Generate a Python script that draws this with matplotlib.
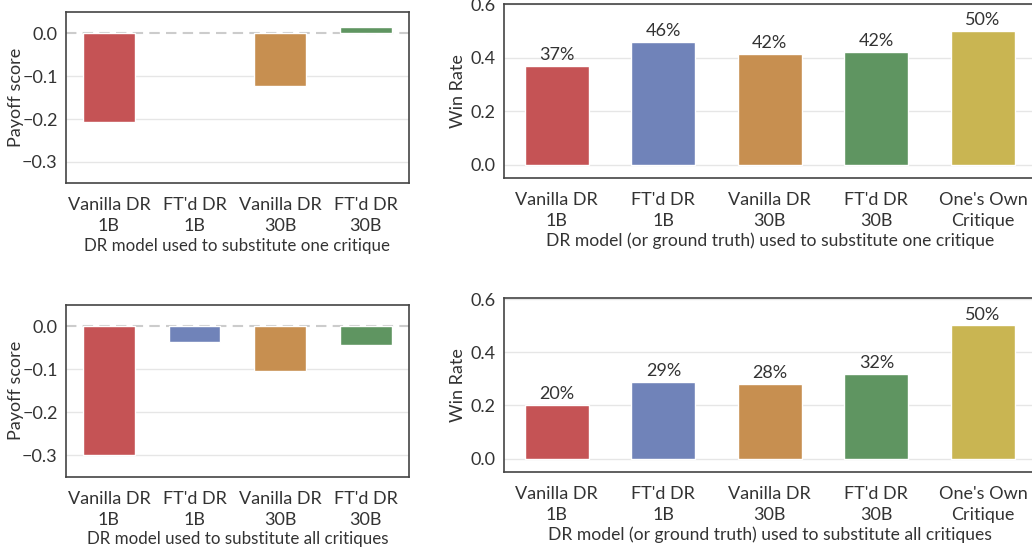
import numpy as np
import matplotlib.pyplot as plt

plt.rcParams['font.family'] = ['Lato', 'DejaVu Sans']
plt.rcParams['text.color'] = '#333333'
plt.rcParams['axes.labelcolor'] = '#333333'
plt.rcParams['xtick.color'] = '#333333'
plt.rcParams['ytick.color'] = '#333333'

# data
dr_labels = ["Vanilla DR\n1B", "FT'd DR\n1B", "Vanilla DR\n30B", "FT'd DR\n30B"]
win_labels = dr_labels + ["One's Own\nCritique"]

payoff_one = [-0.207, 0.0, -0.122, 0.016]
payoff_all = [-0.300, -0.037, -0.105, -0.043]

win_one = [0.37, 0.46, 0.416, 0.423, 0.50]
win_all = [0.203, 0.289, 0.282, 0.319, 0.502]

colors = ['#C55355', '#7083B9', '#C78F50', '#5F9561', '#C9B552']

fs = 13

fig = plt.figure(figsize=(10.32, 5.5), dpi=100)
ax_p1 = fig.add_axes([0.064, 0.667, 0.332, 0.311])
ax_w1 = fig.add_axes([0.488, 0.676, 0.516, 0.316])
ax_p2 = fig.add_axes([0.064, 0.133, 0.332, 0.313])
ax_w2 = fig.add_axes([0.488, 0.142, 0.516, 0.317])


def style(ax):
    for s in ax.spines.values():
        s.set_color('#444444')
        s.set_linewidth(1.2)
    ax.set_axisbelow(True)
    ax.grid(axis='y', color='#E6E6E6', linewidth=1.0)
    ax.tick_params(axis='y', length=0, labelsize=fs, pad=6)
    ax.tick_params(axis='x', length=0, labelsize=fs, pad=10)
    for t in ax.get_xticklabels():
        t.set_linespacing(1.4)


def payoff_plot(ax, vals, xlabel):
    x = np.arange(len(vals))
    bars = ax.bar(x, vals, width=0.6, color=colors[:len(vals)], edgecolor='white', linewidth=1)
    # no white edge on a bar of zero height, it would hide the dashed line
    for b, v in zip(bars, vals):
        if v == 0:
            b.set_linewidth(0)
    ax.axhline(0, color='#CCCCCC', linestyle='--', linewidth=1.5, dashes=(5, 3), zorder=0.5)
    ax.set_xlim(-0.5, len(vals) - 0.5)
    ax.set_ylim(-0.35, 0.05)
    ax.set_yticks([0.0, -0.1, -0.2, -0.3])
    ax.set_yticklabels(['0.0', '\u22120.1', '\u22120.2', '\u22120.3'])
    ax.set_xticks(x)
    ax.set_xticklabels(dr_labels)
    ax.set_ylabel('Payoff score', fontsize=fs)
    ax.yaxis.set_label_coords(-0.122, 0.5)
    ax.set_xlabel(xlabel, fontsize=12.2, labelpad=2.5)
    style(ax)
    ax.grid(False)
    for t in [-0.1, -0.2, -0.3]:
        ax.axhline(t, color='#E6E6E6', linewidth=1.0, zorder=0.4)


def win_plot(ax, vals, xlabel, top):
    x = np.arange(len(vals))
    bars = ax.bar(x, vals, width=0.6, color=colors, edgecolor='white', linewidth=1)
    for b, v in zip(bars, vals):
        ax.text(b.get_x() + b.get_width() / 2, v + 0.01, f"{v:.0%}",
                ha='center', va='bottom', fontsize=fs)
    ax.set_xlim(-0.5, len(vals) - 0.5)
    ax.set_ylim(-0.05, top)
    ax.set_yticks([0.0, 0.2, 0.4, 0.6])
    ax.set_xticks(x)
    ax.set_xticklabels(win_labels)
    ax.set_ylabel('Win Rate', fontsize=fs)
    ax.yaxis.set_label_coords(-0.071, 0.5)
    ax.set_xlabel(xlabel, fontsize=12.6, labelpad=2.5)
    style(ax)


payoff_plot(ax_p1, payoff_one, 'DR model used to substitute one critique')
payoff_plot(ax_p2, payoff_all, 'DR model used to substitute all critiques')
win_plot(ax_w1, win_one, 'DR model (or ground truth) used to substitute one critique', 0.6)
win_plot(ax_w2, win_all, 'DR model (or ground truth) used to substitute all critiques', 0.606)

fig.savefig('out.png', dpi=100)
